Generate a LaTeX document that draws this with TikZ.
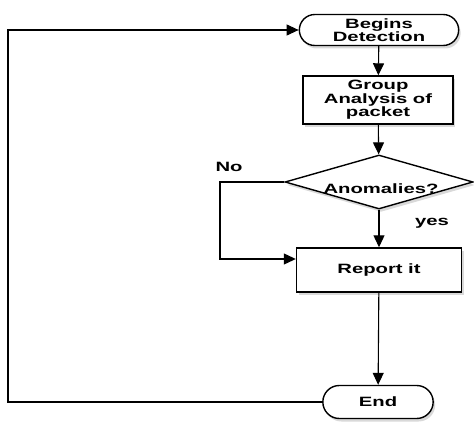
\documentclass[tikz,border=0pt]{standalone}
\usepackage{fontspec}
\setmainfont{Liberation Sans}[FakeStretch=1.5]
\usetikzlibrary{arrows.meta,shapes.geometric,shapes.misc,shadows}

\begin{document}
\begin{tikzpicture}
[x=1pt,y=-1pt,->,>={Triangle[length=12pt,width=11pt]},
line width=1.1pt,font=\bfseries\fontsize{13.5}{13.5}\selectfont,
box/.style={draw,line width=1.4pt,fill=white,align=center,
drop shadow={opacity=0.3,shadow xshift=2pt,shadow yshift=-3pt}},
terminal/.style={box,rounded rectangle,minimum height=31pt},
process/.style={box,rectangle,inner sep=2pt}]
\useasboundingbox (0,0) rectangle (474,422);

\node (begin) at (379,30) [terminal,minimum width=166pt] {Begins\\Detection};
\node (group) at (378,100) [process,minimum width=150pt,minimum height=48pt] {Group\\Analysis of\\packet};
\node (anom) at (379,182) [box,diamond,aspect=3.5,inner sep=0pt,minimum width=188pt,minimum height=54pt] {\hspace*{4pt}\raisebox{-12pt}[0pt][0pt]{Anomalies?}};
\node (report) at (379,270) [process,minimum width=165pt,minimum height=44pt] {Report it};
\node (ende) at (378,402) [terminal,minimum width=117pt,minimum height=33pt] {End};

\node (no) at (229,167) {No};
\node (yes) at (432,223) {yes};

\coordinate (n1) at (220,182);
\coordinate (n2) at (220,259);
\coordinate (b1) at (8,402);
\coordinate (b2) at (8,30);

\draw (begin) -- (group);
\draw (group) -- (anom);
\draw (anom) -- (report);
\draw (report) -- (ende);
\draw (anom) -- (n1) -- (n2) -- (n2 -| report.west);
\draw (ende) -- (b1) -- (b2) -- (begin);

\end{tikzpicture}
\end{document}
